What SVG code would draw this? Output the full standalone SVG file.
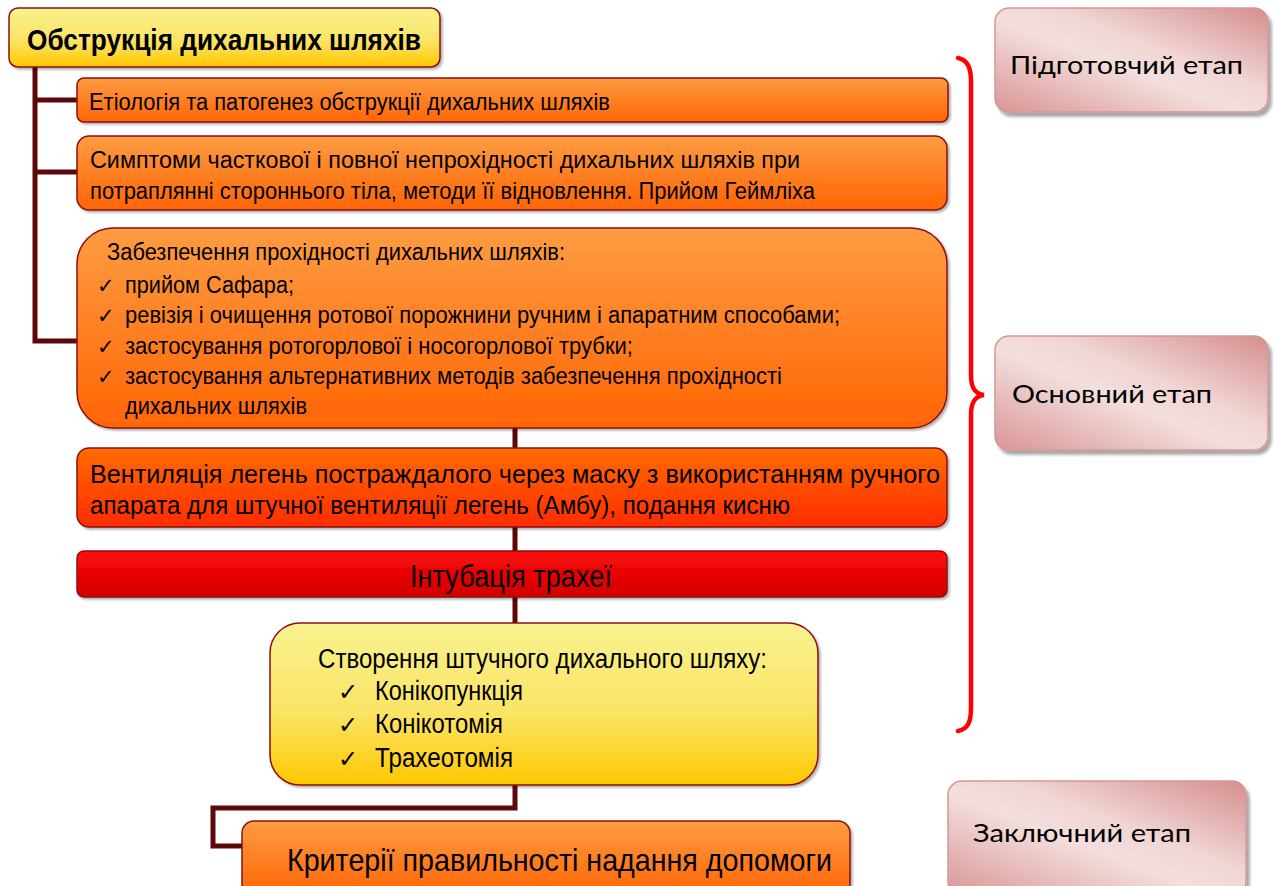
<svg xmlns="http://www.w3.org/2000/svg" width="1275" height="886" viewBox="0 0 1275 886">
<defs>
<linearGradient id="gYel" x1="0" y1="0" x2="0" y2="1"><stop offset="0" stop-color="#f8f28e"/><stop offset="0.55" stop-color="#fbe466"/><stop offset="1" stop-color="#ffc800"/></linearGradient>
<linearGradient id="gOr" x1="0" y1="0" x2="0" y2="1"><stop offset="0" stop-color="#fd9c42"/><stop offset="1" stop-color="#ff6505"/></linearGradient>
<linearGradient id="gOrRed" x1="0" y1="0" x2="0" y2="1"><stop offset="0" stop-color="#ff6c00"/><stop offset="1" stop-color="#ff2c00"/></linearGradient>
<linearGradient id="gRed" x1="0" y1="0" x2="0" y2="1"><stop offset="0" stop-color="#ff0a0a"/><stop offset="1" stop-color="#d20000"/></linearGradient>
<linearGradient id="gPink" x1="0" y1="1" x2="1" y2="0"><stop offset="0" stop-color="#d99594"/><stop offset="0.45" stop-color="#f3dfde"/><stop offset="0.6" stop-color="#f0d6d5"/><stop offset="1" stop-color="#d68e8d"/></linearGradient>
<filter id="sh" x="-5%" y="-10%" width="110%" height="130%"><feDropShadow dx="2" dy="2" stdDeviation="1.2" flood-color="#000" flood-opacity="0.3"/></filter>
<filter id="shP" x="-5%" y="-10%" width="110%" height="130%"><feDropShadow dx="3" dy="4" stdDeviation="1.5" flood-color="#000" flood-opacity="0.35"/></filter>
</defs>
<style>
.box{stroke:#8b1010;stroke-width:1.5;filter:url(#sh)}
.pink{fill:url(#gPink);stroke:#d49896;stroke-width:1.5;filter:url(#shP)}
.t{font-family:"Liberation Sans Narrow","Liberation Sans",Arial,sans-serif;fill:#000}
.p{font-family:Lato,"Open Sans","Liberation Sans",sans-serif;fill:#000;font-size:25px}
.ck{font-family:"DejaVu Sans",sans-serif;fill:#000}
.con{fill:none;stroke:#5c0808;stroke-width:5;stroke-linejoin:miter}
</style>
<g id="connectors">
<path class="con" d="M35,67 V341 H78 M35,100 H78 M35,172 H78"/>
<path class="con" d="M515,428 V624"/>
<path class="con" d="M515,785 V808 H213 V846 H243"/>
<path d="M958,58 C968,60 971,68 971,82 V375 C971,388 975,394 984,395 C975,396 971,402 971,415 V708 C971,722 968,729 958,731" fill="none" stroke="#ff0000" stroke-width="4.5" stroke-linecap="round"/>
</g>
<g id="n0">
<rect class="box" x="9" y="8" width="431" height="59" rx="9" fill="url(#gYel)"/>
<text class="t" x="27" y="50" font-size="30" font-weight="bold" textLength="394" lengthAdjust="spacingAndGlyphs">Обструкція дихальних шляхів</text>
</g>
<g id="n1">
<rect class="box" x="77" y="78" width="871" height="44" rx="7" fill="url(#gOr)"/>
<text class="t" x="89" y="110" font-size="23" textLength="521" lengthAdjust="spacingAndGlyphs">Етіологія та патогенез обструкції дихальних шляхів</text>
</g>
<g id="n2">
<rect class="box" x="77" y="136" width="870" height="74" rx="12" fill="url(#gOr)"/>
<text class="t" x="90" y="168" font-size="23" textLength="710" lengthAdjust="spacingAndGlyphs">Симптоми часткової і повної непрохідності дихальних шляхів при</text>
<text class="t" x="90" y="199" font-size="23" textLength="725" lengthAdjust="spacingAndGlyphs">потраплянні стороннього тіла, методи її відновлення. Прийом Геймліха</text>
</g>
<g id="n3">
<rect class="box" x="77" y="228" width="870" height="200" rx="36" fill="url(#gOr)"/>
<text class="t" x="107" y="260" font-size="23" textLength="458" lengthAdjust="spacingAndGlyphs">Забезпечення прохідності дихальних шляхів:</text>
<text class="ck" x="97" y="293" font-size="21">✓</text>
<text class="t" x="125" y="293" font-size="23" textLength="169" lengthAdjust="spacingAndGlyphs">прийом Сафара;</text>
<text class="ck" x="97" y="323" font-size="21">✓</text>
<text class="t" x="125" y="323" font-size="23" textLength="715" lengthAdjust="spacingAndGlyphs">ревізія і очищення ротової порожнини ручним і апаратним способами;</text>
<text class="ck" x="97" y="354" font-size="21">✓</text>
<text class="t" x="125" y="354" font-size="23" textLength="508" lengthAdjust="spacingAndGlyphs">застосування ротогорлової і носогорлової трубки;</text>
<text class="ck" x="97" y="384" font-size="21">✓</text>
<text class="t" x="125" y="384" font-size="23" textLength="657" lengthAdjust="spacingAndGlyphs">застосування альтернативних методів забезпечення прохідності</text>
<text class="t" x="125" y="414" font-size="23" textLength="182" lengthAdjust="spacingAndGlyphs">дихальних шляхів</text>
</g>
<g id="n4">
<rect class="box" x="77" y="448" width="870" height="79" rx="12" fill="url(#gOrRed)"/>
<text class="t" x="90" y="483" font-size="26" textLength="850" lengthAdjust="spacingAndGlyphs">Вентиляція легень постраждалого через маску з використанням ручного</text>
<text class="t" x="90" y="514" font-size="26" textLength="700" lengthAdjust="spacingAndGlyphs">апарата для штучної вентиляції легень (Амбу), подання кисню</text>
</g>
<g id="n5">
<rect class="box" x="77" y="551" width="870" height="46" rx="7" fill="url(#gRed)"/>
<text class="t" x="410" y="587" font-size="31" textLength="202" lengthAdjust="spacingAndGlyphs">Інтубація трахеї</text>
</g>
<g id="n6">
<rect class="box" x="270" y="623" width="548" height="162" rx="30" fill="url(#gYel)"/>
<text class="t" x="318" y="668" font-size="27" textLength="449" lengthAdjust="spacingAndGlyphs">Створення штучного дихального шляху:</text>
<text class="ck" x="338" y="700" font-size="24">✓</text>
<text class="t" x="375" y="700" font-size="27" textLength="148" lengthAdjust="spacingAndGlyphs">Конікопункція</text>
<text class="ck" x="338" y="733" font-size="24">✓</text>
<text class="t" x="375" y="733" font-size="27" textLength="128" lengthAdjust="spacingAndGlyphs">Конікотомія</text>
<text class="ck" x="338" y="767" font-size="24">✓</text>
<text class="t" x="375" y="767" font-size="27" textLength="138" lengthAdjust="spacingAndGlyphs">Трахеотомія</text>
</g>
<g id="n7">
<rect class="box" x="242" y="821" width="608" height="75" rx="12" fill="url(#gOr)"/>
<text class="t" x="287" y="871" font-size="32" textLength="545" lengthAdjust="spacingAndGlyphs">Критерії правильності надання допомоги</text>
</g>
<g id="s1">
<rect class="pink" x="995" y="8" width="273" height="104" rx="14"/>
<text class="p" x="1010" y="74" textLength="233" lengthAdjust="spacingAndGlyphs">Підготовчий етап</text>
</g>
<g id="s2">
<rect class="pink" x="995" y="336" width="273" height="114" rx="14"/>
<text class="p" x="1012" y="403" textLength="200" lengthAdjust="spacingAndGlyphs">Основний етап</text>
</g>
<g id="s3">
<rect class="pink" x="948" y="781" width="298" height="115" rx="14"/>
<text class="p" x="973" y="842" textLength="218" lengthAdjust="spacingAndGlyphs">Заключний етап</text>
</g>
</svg>
